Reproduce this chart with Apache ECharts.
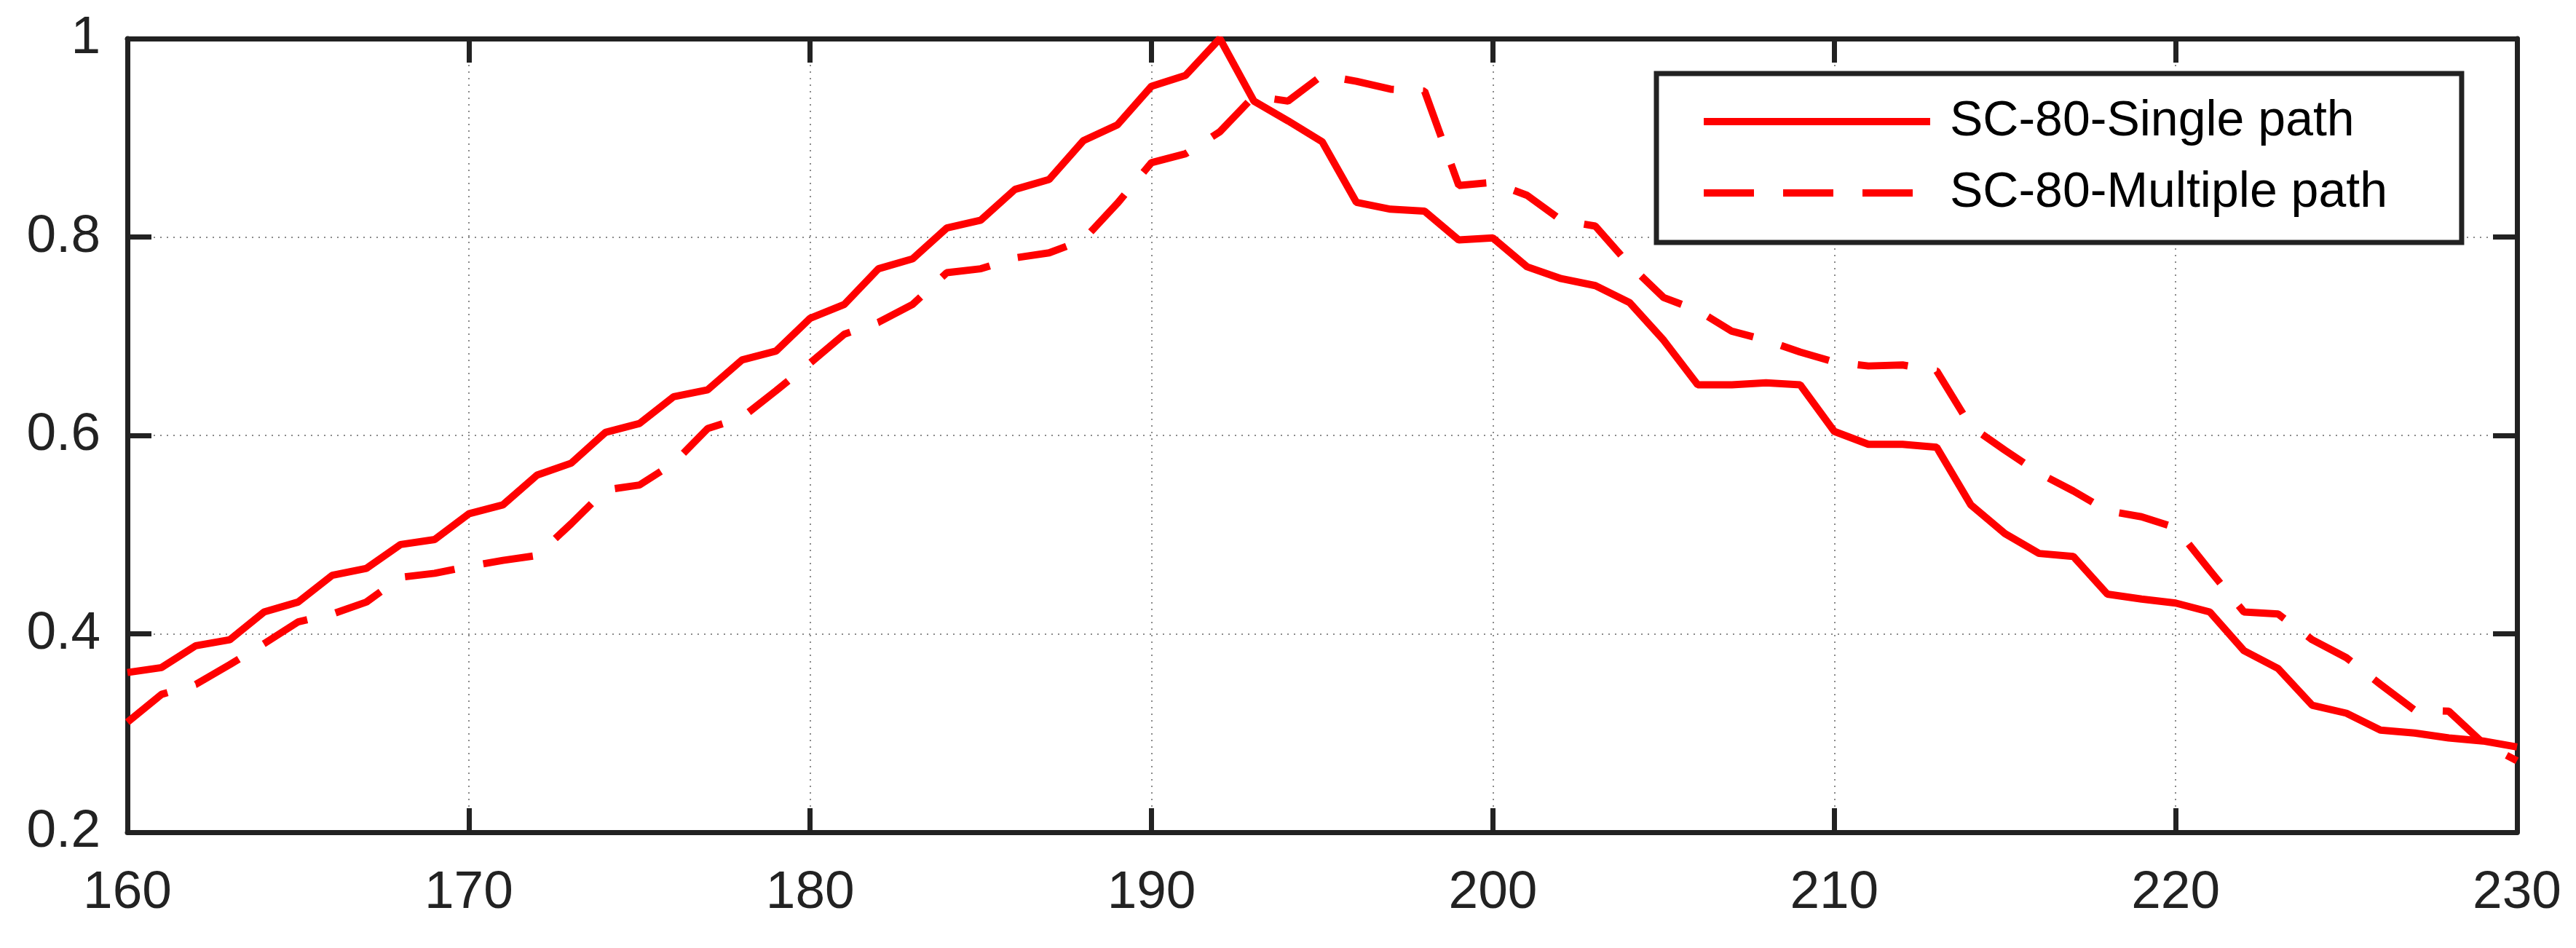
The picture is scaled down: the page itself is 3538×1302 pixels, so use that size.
<!DOCTYPE html>
<html>
<head>
<meta charset="utf-8">
<script src="https://cdn.jsdelivr.net/npm/echarts@6/dist/echarts.min.js"></script>
<style>
html,body{margin:0;padding:0;background:#fff;}
#c{width:3538px;height:1302px;}
</style>
</head>
<body>
<div id="c"></div>
<script>
// ---- data ----
const xValues = [160,161,162,163,164,165,166,167,168,169,170,171,172,173,174,175,176,177,178,179,
  180,181,182,183,184,185,186,187,188,189,190,191,192,193,194,195,196,197,198,199,
  200,201,202,203,204,205,206,207,208,209,210,211,212,213,214,215,216,217,218,219,
  220,221,222,223,224,225,226,227,228,229,230];
const singlePath = [0.361,0.366,0.388,0.394,0.422,0.432,0.459,0.466,0.490,0.495,
  0.521,0.530,0.560,0.572,0.603,0.612,0.639,0.646,0.676,0.685,
  0.718,0.732,0.768,0.778,0.809,0.817,0.848,0.858,0.897,0.913,
  0.952,0.963,1.000,0.937,0.917,0.896,0.835,0.828,0.826,0.797,
  0.799,0.770,0.758,0.751,0.734,0.696,0.651,0.651,0.653,0.651,
  0.604,0.591,0.591,0.588,0.530,0.501,0.481,0.478,0.440,0.435,
  0.431,0.422,0.383,0.365,0.328,0.320,0.303,0.300,0.295,0.292,0.286];
const multiplePath = [0.311,0.339,0.349,0.369,0.390,0.412,0.420,0.432,0.457,0.461,
  0.468,0.474,0.479,0.511,0.545,0.550,0.572,0.607,0.618,0.645,
  0.673,0.702,0.714,0.732,0.764,0.768,0.779,0.784,0.797,0.834,
  0.875,0.884,0.906,0.942,0.937,0.963,0.957,0.949,0.947,0.852,
  0.855,0.842,0.817,0.811,0.772,0.739,0.726,0.705,0.696,0.684,
  0.674,0.670,0.671,0.665,0.609,0.585,0.562,0.544,0.524,0.518,
  0.507,0.464,0.422,0.420,0.394,0.376,0.349,0.323,0.322,0.290,0.272];
const seriesNames = ['SC-80-Single path', 'SC-80-Multiple path'];
const xTicks = [160,170,180,190,200,210,220,230];
const yTicks = [0.2,0.4,0.6,0.8,1];

// ---- chart ----
const FONT = '"Liberation Sans", Arial, Helvetica, sans-serif';
const AX = '#222222';
const pairs = (ys) => xValues.map((x, i) => [x, ys[i]]);

const chart = echarts.init(document.getElementById('c'), null, {renderer: 'canvas'});

const axisCommon = {
  type: 'value',
  axisLine: {show: true, onZero: false, lineStyle: {color: AX, width: 7}},
  axisTick: {show: true, inside: true, length: 33, lineStyle: {color: AX, width: 7}},
};

chart.setOption({
  animation: false,
  backgroundColor: '#ffffff',
  grid: {left: 175, right: 81, top: 53, bottom: 159, containLabel: false},
  xAxis: [
    Object.assign({}, axisCommon, {
      position: 'bottom', min: xTicks[0], max: xTicks[xTicks.length - 1], interval: 10,
      axisLabel: {show: true, margin: 47, color: AX, fontSize: 73, fontFamily: FONT,
        formatter: (v) => xTicks.includes(v) ? String(v) : ''},
      splitLine: {show: true, lineStyle: {color: '#666666', width: 1.5, type: [2, 7]}}
    }),
    Object.assign({}, axisCommon, {
      position: 'top', min: xTicks[0], max: xTicks[xTicks.length - 1], interval: 10,
      axisLabel: {show: false}, splitLine: {show: false}
    })
  ],
  yAxis: [
    Object.assign({}, axisCommon, {
      position: 'left', min: yTicks[0], max: yTicks[yTicks.length - 1], interval: 0.2,
      axisLabel: {show: true, margin: 37, color: AX, fontSize: 73, fontFamily: FONT,
        formatter: (v) => String(Math.round(v * 10) / 10)},
      splitLine: {show: true, lineStyle: {color: '#666666', width: 1.5, type: [2, 7]}}
    }),
    Object.assign({}, axisCommon, {
      position: 'right', min: yTicks[0], max: yTicks[yTicks.length - 1], interval: 0.2,
      axisLabel: {show: false}, splitLine: {show: false}
    })
  ],
  legend: {
    orient: 'vertical',
    left: 2275, top: 101,
    padding: [32, 102, 34, 60],
    itemWidth: 311, itemHeight: 68, itemGap: 30,
    borderColor: AX, borderWidth: 7, backgroundColor: '#ffffff',
    lineStyle: {width: 10},
    itemStyle: {opacity: 0, borderWidth: 0},
    textStyle: {color: '#000000', fontSize: 68, fontFamily: FONT, lineHeight: 68,
      padding: [0, 0, 0, 22]},
    data: seriesNames
  },
  series: [
    {
      name: seriesNames[0], type: 'line', data: pairs(singlePath),
      symbol: 'none', showSymbol: false, z: 3,
      lineStyle: {color: '#ff0000', width: 10, type: 'solid'},
      itemStyle: {color: '#ff0000'}
    },
    {
      name: seriesNames[1], type: 'line', data: pairs(multiplePath),
      symbol: 'none', showSymbol: false, z: 2,
      lineStyle: {color: '#ff0000', width: 10, type: [69, 40], cap: 'butt'},
      itemStyle: {color: '#ff0000'}
    }
  ]
});
</script>
</body>
</html>
